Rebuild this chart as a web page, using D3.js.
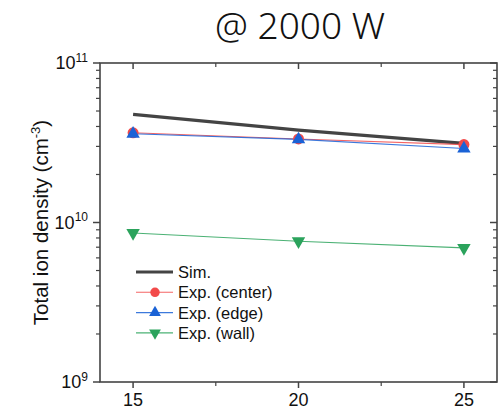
<!DOCTYPE html>
<html>
<head>
<meta charset="utf-8">
<script src="https://cdn.jsdelivr.net/npm/d3@7"></script>
<style>
  html, body { margin: 0; padding: 0; background: #fff; }
  svg { display: block; }
</style>
</head>
<body>
<svg id="chart" width="499" height="411"></svg>
<script>
// Flow rate (x) and total ion density (cm^-3) for each series
const xValues = [15, 20, 25];
const simValues = [4.76e10, 3.79e10, 3.13e10];
const centerValues = [3.65e10, 3.34e10, 3.08e10];
const edgeValues = [3.6e10, 3.32e10, 2.91e10];
const wallValues = [8.6e9, 7.63e9, 6.93e9];
const xTicks = [15, 20, 25];
const yExponents = [9, 10, 11];
const seriesNames = ["Sim.", "Exp. (center)", "Exp. (edge)", "Exp. (wall)"];

(function () {
const svg = d3.select("#chart");
const plotLeft = 100, plotRight = 497, plotTop = 63, plotBottom = 382;
const axisColor = "#444";
const font = "Arial, 'Liberation Sans', sans-serif";

const x = d3.scaleLinear().domain([14, 26]).range([plotLeft, plotRight]);
const y = d3.scaleLog().domain([1e9, 1e11]).range([plotBottom, plotTop]);

// Title
svg.append("text")
  .attr("x", 300).attr("y", 39)
  .attr("text-anchor", "middle")
  .attr("font-family", "'Noto Sans', 'Open Sans', sans-serif")
  .attr("font-weight", 300)
  .attr("font-size", 37)
  .attr("fill", "#111")
  .text("@ 2000 W");

// Log minor ticks 2..9 per decade
const minorY = [];
[1e9, 1e10].forEach(d => { for (let k = 2; k <= 9; k++) minorY.push(d * k); });
const majorY = yExponents.map(e => Math.pow(10, e));

const g = svg.append("g");

// Left axis: outward ticks
majorY.forEach(v => g.append("line").attr("x1", plotLeft - 7).attr("x2", plotLeft)
  .attr("y1", y(v)).attr("y2", y(v)).attr("stroke", axisColor).attr("stroke-width", 1.5));
minorY.forEach(v => g.append("line").attr("x1", plotLeft - 4).attr("x2", plotLeft)
  .attr("y1", y(v)).attr("y2", y(v)).attr("stroke", axisColor).attr("stroke-width", 1.2));
// Right axis: inward ticks
majorY.forEach(v => g.append("line").attr("x1", plotRight - 7).attr("x2", plotRight)
  .attr("y1", y(v)).attr("y2", y(v)).attr("stroke", axisColor).attr("stroke-width", 1.5));
minorY.forEach(v => g.append("line").attr("x1", plotRight - 4).attr("x2", plotRight)
  .attr("y1", y(v)).attr("y2", y(v)).attr("stroke", axisColor).attr("stroke-width", 1.2));

// Bottom axis: outward ticks; top axis: inward ticks
const minorX = [17.5, 22.5];
xTicks.forEach(v => {
  g.append("line").attr("x1", x(v)).attr("x2", x(v)).attr("y1", plotBottom).attr("y2", plotBottom + 6)
    .attr("stroke", axisColor).attr("stroke-width", 1.5);
  g.append("line").attr("x1", x(v)).attr("x2", x(v)).attr("y1", plotTop).attr("y2", plotTop + 6)
    .attr("stroke", axisColor).attr("stroke-width", 1.5);
});
minorX.forEach(v => {
  g.append("line").attr("x1", x(v)).attr("x2", x(v)).attr("y1", plotBottom).attr("y2", plotBottom + 4)
    .attr("stroke", axisColor).attr("stroke-width", 1.2);
  g.append("line").attr("x1", x(v)).attr("x2", x(v)).attr("y1", plotTop).attr("y2", plotTop + 4)
    .attr("stroke", axisColor).attr("stroke-width", 1.2);
});

// Frame
g.append("rect").attr("x", plotLeft).attr("y", plotTop)
  .attr("width", plotRight - plotLeft).attr("height", plotBottom - plotTop)
  .attr("fill", "none").attr("stroke", axisColor).attr("stroke-width", 1.6);

// X tick labels
xTicks.forEach(v => svg.append("text")
  .attr("x", x(v)).attr("y", 406)
  .attr("text-anchor", "middle")
  .attr("font-family", font).attr("font-size", 18).attr("fill", "#111")
  .text(v));

// Y tick labels 10^n
yExponents.forEach(e => {
  const t = svg.append("text")
    .attr("x", 88).attr("y", y(Math.pow(10, e)) + 6)
    .attr("text-anchor", "end")
    .attr("font-family", font).attr("font-size", 18).attr("fill", "#111");
  t.append("tspan").text("10");
  t.append("tspan").attr("dy", -7.5).attr("font-size", 12).text(e);
});

// Y axis title
const yt = svg.append("text")
  .attr("transform", `translate(48,${(plotTop + plotBottom) / 2}) rotate(-90)`)
  .attr("text-anchor", "middle")
  .attr("font-family", font).attr("font-size", 20.5).attr("fill", "#111");
yt.append("tspan").text("Total ion density (cm");
yt.append("tspan").attr("dy", -8).attr("font-size", 13).text("-3");
yt.append("tspan").attr("dy", 8).text(")");

// Series
const line = d3.line().x(d => x(d[0])).y(d => y(d[1]));
const zip = vals => xValues.map((v, i) => [v, vals[i]]);

const series = [
  { name: seriesNames[0], vals: simValues, color: "#444", width: 3.2, marker: null },
  { name: seriesNames[1], vals: centerValues, color: "#f24a4a", width: 1.1, marker: "circle" },
  { name: seriesNames[2], vals: edgeValues, color: "#1a62d6", width: 1.1, marker: "triangle" },
  { name: seriesNames[3], vals: wallValues, color: "#2ba35c", width: 1.1, marker: "down" }
];

const plot = svg.append("g");
const markerPath = (type, size) => {
  if (type === "circle") return d3.symbol().type(d3.symbolCircle).size(size)();
  return d3.symbol().type(d3.symbolTriangle).size(size)();
};

function drawMarker(sel, type, cx, cy, size, color) {
  if (!type) return;
  let tr = `translate(${cx},${cy})`;
  if (type === "down") tr += " rotate(180)";
  sel.append("path").attr("d", markerPath(type, size)).attr("transform", tr).attr("fill", color);
}

series.forEach(s => {
  plot.append("path").datum(zip(s.vals)).attr("d", line)
    .attr("fill", "none").attr("stroke", s.color).attr("stroke-width", s.width)
    .attr("stroke-opacity", s.marker ? 0.85 : 1);
});
series.forEach(s => {
  zip(s.vals).forEach(d => {
    const size = s.marker === "circle" ? 95 : 78;
    drawMarker(plot, s.marker, x(d[0]), y(d[1]), size, s.color);
  });
});

// Legend
const legendY0 = 272, legendStep = 20.3;
series.forEach((s, i) => {
  const ly = legendY0 + i * legendStep;
  svg.append("line").attr("x1", 136).attr("x2", 173).attr("y1", ly).attr("y2", ly)
    .attr("stroke", s.color).attr("stroke-width", s.marker ? 1.1 : 3.2)
    .attr("stroke-opacity", s.marker ? 0.85 : 1);
  drawMarker(svg, s.marker, 155, ly, s.marker === "circle" ? 70 : 60, s.color);
  svg.append("text").attr("x", 178).attr("y", ly + 6)
    .attr("font-family", font).attr("font-size", 16.5).attr("fill", "#111")
    .text(s.name);
});
})();
</script>
</body>
</html>
